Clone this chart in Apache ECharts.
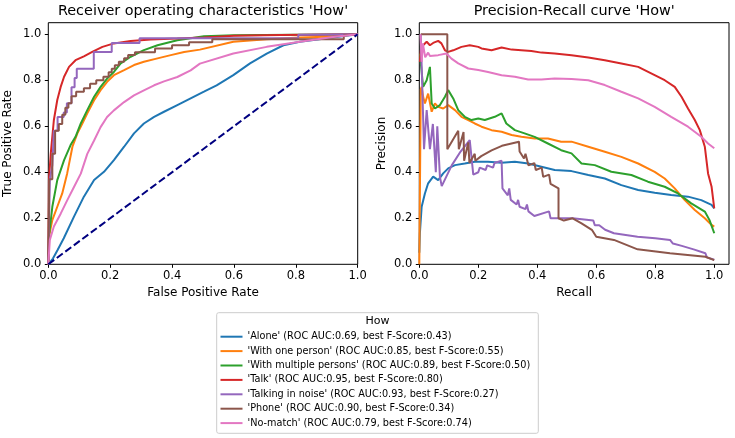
<!DOCTYPE html>
<html>
<head>
<meta charset="utf-8">
<script src="https://cdn.jsdelivr.net/npm/echarts@6/dist/echarts.min.js"></script>
<style>html,body{margin:0;padding:0;background:#fff}#c{width:735px;height:438px}</style>
</head>
<body>
<div id="c"></div>
<script>
const categories = ["'Alone'", "'With one person'", "'With multiple persons'", "'Talk'", "'Talking in noise'", "'Phone'", "'No-match'"];
const rocAuc = ['0.69', '0.85', '0.89', '0.95', '0.93', '0.90', '0.79'];
const bestF = ['0.43', '0.55', '0.50', '0.80', '0.27', '0.34', '0.74'];
const colors = ['#1f77b4', '#ff7f0e', '#2ca02c', '#d62728', '#9467bd', '#8c564b', '#e377c2'];
const tickValues = [0, 0.2, 0.4, 0.6, 0.8, 1.0];
const diagonal = [[0, 0], [1, 1]];

// ROC curves [FPR, TPR]
const rocAlone = [[0,0],[0.015,0.025],[0.03,0.062],[0.05,0.113],[0.083,0.207],[0.115,0.294],[0.148,0.366],[0.18,0.402],[0.212,0.453],[0.245,0.511],[0.277,0.569],[0.309,0.612],[0.342,0.641],[0.374,0.663],[0.417,0.692],[0.46,0.721],[0.503,0.75],[0.544,0.778],[0.598,0.822],[0.652,0.873],[0.706,0.916],[0.76,0.952],[0.813,0.967],[0.92,0.986],[1,1]];
const rocWithOne = [[0,0],[0.002,0.12],[0.013,0.192],[0.029,0.25],[0.045,0.308],[0.061,0.395],[0.078,0.511],[0.094,0.569],[0.11,0.612],[0.126,0.656],[0.148,0.713],[0.169,0.757],[0.19,0.793],[0.212,0.822],[0.245,0.844],[0.277,0.866],[0.309,0.88],[0.353,0.895],[0.396,0.909],[0.439,0.923],[0.49,0.933],[0.598,0.967],[0.706,0.978],[0.813,0.986],[0.92,0.99],[1,1]];
const rocWithMultiple = [[0,0],[0.002,0.12],[0.013,0.25],[0.029,0.366],[0.051,0.453],[0.072,0.518],[0.088,0.554],[0.105,0.612],[0.126,0.67],[0.148,0.728],[0.169,0.771],[0.19,0.807],[0.212,0.836],[0.234,0.873],[0.266,0.902],[0.309,0.931],[0.353,0.952],[0.417,0.974],[0.503,0.991],[0.6,0.996],[1,1]];
const rocTalk = [[0,0],[0.002,0.366],[0.008,0.482],[0.018,0.627],[0.029,0.714],[0.04,0.771],[0.051,0.815],[0.067,0.858],[0.088,0.887],[0.115,0.904],[0.142,0.923],[0.175,0.945],[0.212,0.96],[0.266,0.971],[0.331,0.977],[0.417,0.981],[0.503,0.986],[0.6,0.993],[0.75,0.997],[1,1]];
const rocTalkingNoise = [[0,0],[0.005,0],[0.005,0.37],[0.013,0.43],[0.018,0.58],[0.03,0.58],[0.03,0.64],[0.05,0.64],[0.05,0.66],[0.06,0.66],[0.06,0.70],[0.075,0.70],[0.075,0.77],[0.085,0.77],[0.085,0.81],[0.092,0.81],[0.092,0.85],[0.147,0.85],[0.147,0.923],[0.205,0.923],[0.205,0.962],[0.295,0.962],[0.295,0.982],[0.808,0.982],[0.808,0.998],[1,1]];
const rocPhone = [[0,0],[0.003,0],[0.003,0.37],[0.013,0.37],[0.013,0.48],[0.022,0.48],[0.022,0.58],[0.034,0.58],[0.034,0.61],[0.045,0.61],[0.045,0.65],[0.055,0.65],[0.055,0.68],[0.065,0.68],[0.065,0.70],[0.075,0.70],[0.075,0.73],[0.09,0.73],[0.09,0.75],[0.115,0.75],[0.115,0.765],[0.135,0.765],[0.135,0.785],[0.155,0.785],[0.155,0.80],[0.178,0.80],[0.178,0.815],[0.195,0.815],[0.195,0.835],[0.205,0.835],[0.205,0.85],[0.215,0.85],[0.215,0.865],[0.228,0.865],[0.228,0.88],[0.245,0.88],[0.245,0.895],[0.258,0.895],[0.258,0.91],[0.28,0.91],[0.28,0.922],[0.345,0.922],[0.345,0.938],[0.40,0.938],[0.40,0.952],[0.455,0.952],[0.455,0.965],[0.53,0.965],[0.53,0.978],[0.955,0.978],[0.955,0.995],[1,1]];
const rocNoMatch = [[0,0],[0.005,0.106],[0.018,0.164],[0.04,0.22],[0.061,0.278],[0.083,0.336],[0.105,0.394],[0.126,0.48],[0.148,0.538],[0.169,0.596],[0.19,0.64],[0.212,0.669],[0.245,0.705],[0.277,0.734],[0.309,0.756],[0.342,0.778],[0.374,0.795],[0.417,0.814],[0.46,0.843],[0.49,0.872],[0.598,0.916],[0.706,0.945],[0.813,0.967],[0.92,0.988],[1,1]];

// Precision-Recall curves [Recall, Precision]
const prAlone = [[0,0.05],[0.002,0.135],[0.008,0.25],[0.019,0.308],[0.03,0.352],[0.047,0.381],[0.064,0.366],[0.081,0.395],[0.098,0.417],[0.121,0.431],[0.154,0.438],[0.188,0.446],[0.233,0.446],[0.279,0.441],[0.324,0.446],[0.369,0.438],[0.414,0.424],[0.459,0.41],[0.516,0.405],[0.573,0.388],[0.629,0.373],[0.685,0.344],[0.742,0.323],[0.798,0.311],[0.854,0.301],[0.911,0.294],[0.956,0.279],[0.991,0.258],[1.0,0.243]];
const prWithOne = [[0,0],[0.003,0.0],[0.005,0.76],[0.008,0.771],[0.013,0.728],[0.019,0.699],[0.03,0.742],[0.042,0.663],[0.053,0.699],[0.064,0.684],[0.081,0.677],[0.098,0.692],[0.121,0.67],[0.143,0.641],[0.166,0.627],[0.188,0.612],[0.211,0.598],[0.245,0.583],[0.279,0.576],[0.313,0.562],[0.346,0.554],[0.391,0.547],[0.436,0.547],[0.481,0.533],[0.516,0.533],[0.573,0.511],[0.629,0.489],[0.685,0.467],[0.742,0.438],[0.798,0.402],[0.832,0.373],[0.866,0.33],[0.9,0.279],[0.934,0.236],[0.968,0.2],[0.991,0.171],[1.0,0.164]];
const prWithMultiple = [[0.002,0.916],[0.013,0.771],[0.025,0.80],[0.036,0.858],[0.042,0.699],[0.053,0.677],[0.07,0.692],[0.087,0.728],[0.098,0.757],[0.115,0.721],[0.132,0.67],[0.154,0.641],[0.177,0.627],[0.2,0.634],[0.222,0.627],[0.256,0.641],[0.279,0.656],[0.295,0.612],[0.324,0.583],[0.357,0.569],[0.391,0.554],[0.436,0.525],[0.481,0.496],[0.516,0.482],[0.55,0.438],[0.595,0.431],[0.651,0.402],[0.719,0.388],[0.775,0.359],[0.832,0.337],[0.877,0.308],[0.922,0.265],[0.968,0.229],[0.984,0.192],[1.0,0.135]];
const prTalk = [[0.002,0.88],[0.005,0.93],[0.013,0.952],[0.025,0.967],[0.036,0.952],[0.047,0.962],[0.064,0.971],[0.075,0.96],[0.087,0.93],[0.098,0.923],[0.115,0.93],[0.143,0.945],[0.171,0.952],[0.2,0.945],[0.211,0.938],[0.245,0.93],[0.279,0.942],[0.313,0.933],[0.346,0.93],[0.38,0.927],[0.414,0.92],[0.459,0.916],[0.516,0.909],[0.573,0.899],[0.629,0.887],[0.685,0.873],[0.742,0.858],[0.798,0.822],[0.832,0.80],[0.866,0.771],[0.889,0.728],[0.911,0.677],[0.934,0.627],[0.951,0.583],[0.968,0.511],[0.979,0.395],[0.991,0.337],[1.0,0.243]];
const prTalkingNoise = [[0.005,1.0],[0.01,1.0],[0.016,0.5],[0.025,0.67],[0.036,0.5],[0.046,0.61],[0.056,0.40],[0.061,0.60],[0.07,0.38],[0.076,0.34],[0.11,0.43],[0.14,0.49],[0.171,0.54],[0.183,0.39],[0.2,0.40],[0.205,0.42],[0.225,0.41],[0.23,0.43],[0.25,0.42],[0.255,0.44],[0.279,0.45],[0.282,0.33],[0.30,0.30],[0.305,0.33],[0.31,0.28],[0.33,0.26],[0.335,0.28],[0.34,0.25],[0.36,0.24],[0.365,0.26],[0.37,0.23],[0.39,0.21],[0.44,0.23],[0.445,0.2],[0.52,0.2],[0.59,0.19],[0.595,0.17],[0.61,0.17],[0.63,0.15],[0.66,0.135],[0.74,0.12],[0.8,0.113],[0.85,0.106],[0.86,0.09],[0.89,0.08],[0.93,0.065],[0.97,0.048],[0.975,0.03],[1.0,0.02]];
const prPhone = [[0.005,1.0],[0.095,1.0],[0.095,0.50],[0.132,0.58],[0.134,0.50],[0.15,0.575],[0.152,0.45],[0.166,0.53],[0.17,0.44],[0.188,0.48],[0.19,0.45],[0.21,0.47],[0.245,0.495],[0.28,0.515],[0.338,0.533],[0.34,0.49],[0.355,0.46],[0.36,0.48],[0.37,0.43],[0.39,0.44],[0.395,0.41],[0.415,0.42],[0.42,0.38],[0.44,0.39],[0.445,0.35],[0.472,0.33],[0.472,0.20],[0.49,0.19],[0.52,0.2],[0.55,0.178],[0.585,0.15],[0.6,0.12],[0.66,0.106],[0.74,0.065],[0.85,0.048],[0.97,0.033],[1.0,0.018]];
const prNoMatch = [[0.004,1.0],[0.008,0.88],[0.012,0.96],[0.02,0.90],[0.03,0.92],[0.036,0.905],[0.064,0.909],[0.092,0.916],[0.109,0.894],[0.132,0.873],[0.166,0.851],[0.2,0.844],[0.233,0.836],[0.279,0.822],[0.324,0.815],[0.369,0.803],[0.414,0.803],[0.459,0.807],[0.516,0.805],[0.573,0.80],[0.629,0.779],[0.685,0.75],[0.742,0.721],[0.798,0.684],[0.854,0.641],[0.911,0.598],[0.956,0.554],[0.979,0.525],[1.0,0.504]];

const rocData = [rocAlone, rocWithOne, rocWithMultiple, rocTalk, rocTalkingNoise, rocPhone, rocNoMatch];
const prData = [prAlone, prWithOne, prWithMultiple, prTalk, prTalkingNoise, prPhone, prNoMatch];
const legendNames = categories.map((c, i) => c + ' (ROC AUC:' + rocAuc[i] + ', best F-Score:' + bestF[i] + ')');

const FONT = 'DejaVu Sans';
const chart = echarts.init(document.getElementById('c'), null, {renderer: 'canvas'});

function xAxisCfg(idx, max, name) {
  return {
    type: 'value', gridIndex: idx, min: 0, max: max, name: name,
    nameLocation: 'middle', nameGap: 22,
    nameTextStyle: {fontFamily: FONT, fontSize: 12, color: '#000'},
    axisLine: {show: false},
    axisTick: {show: true, length: 3.5, customValues: tickValues, lineStyle: {color: '#000', width: 1}},
    axisLabel: {customValues: tickValues, margin: 6, fontFamily: FONT, fontSize: 11.5, color: '#000', formatter: v => v.toFixed(1)},
    splitLine: {show: false}
  };
}
function yAxisCfg(idx, name, gap) {
  return {
    type: 'value', gridIndex: idx, min: 0, max: 1.05, name: name,
    nameLocation: 'middle', nameGap: gap, nameRotate: 90,
    nameTextStyle: {fontFamily: FONT, fontSize: 12, color: '#000'},
    axisLine: {show: false},
    axisTick: {show: true, length: 3.5, customValues: tickValues, lineStyle: {color: '#000', width: 1}},
    axisLabel: {customValues: tickValues, margin: 7, fontFamily: FONT, fontSize: 11.5, color: '#000', formatter: v => v.toFixed(1)},
    splitLine: {show: false}
  };
}

const series = [];
rocData.forEach((d, i) => series.push({
  name: legendNames[i], type: 'line', xAxisIndex: 0, yAxisIndex: 0, data: d,
  showSymbol: false, symbol: 'none', lineStyle: {width: 2, color: colors[i]}, itemStyle: {color: colors[i]}, animation: false
}));
series.push({
  name: 'diagonal', type: 'line', xAxisIndex: 0, yAxisIndex: 0, data: diagonal,
  showSymbol: false, symbol: 'none', lineStyle: {width: 2, color: '#000080', type: [7.4, 3.2]}, animation: false
});
prData.forEach((d, i) => series.push({
  name: legendNames[i], type: 'line', xAxisIndex: 1, yAxisIndex: 1, data: d,
  showSymbol: false, symbol: 'none', lineStyle: {width: 2, color: colors[i]}, itemStyle: {color: colors[i]}, animation: false
}));

chart.setOption({
  animation: false,
  textStyle: {fontFamily: FONT},
  grid: [
    {left: 48.3, top: 22.7, width: 309.4, height: 241.6, show: true, borderColor: '#000', borderWidth: 1, backgroundColor: 'transparent'},
    {left: 419.3, top: 22.7, width: 309.7, height: 241.6, show: true, borderColor: '#000', borderWidth: 1, backgroundColor: 'transparent'}
  ],
  xAxis: [xAxisCfg(0, 1.0, 'False Positive Rate'), xAxisCfg(1, 1.05, 'Recall')],
  yAxis: [yAxisCfg(0, 'True Positive Rate', 34), yAxisCfg(1, 'Precision', 31.5)],
  legend: {
    data: legendNames, orient: 'vertical', left: 220.5, top: 330.7, height: 104, padding: 0,
    icon: 'rect', itemWidth: 22, itemHeight: 2, itemGap: 2.4, selectedMode: false,
    textStyle: {fontFamily: FONT, fontSize: 9.7, color: '#000', lineHeight: 12}
  },
  graphic: [
    {type: 'rect', shape: {x: 216.7, y: 312.7, width: 321.6, height: 120.6, r: 2}, style: {fill: '#fff', stroke: '#cccccc', lineWidth: 1}, z: 0},
    {type: 'text', x: 377.5, y: 320.7, style: {text: 'How', fontFamily: FONT, fontSize: 11, fill: '#000', textAlign: 'center', textVerticalAlign: 'middle'}, z: 5},
    {type: 'text', x: 203, y: 11, style: {text: "Receiver operating characteristics 'How'", fontFamily: FONT, fontSize: 14.4, fill: '#000', textAlign: 'center', textVerticalAlign: 'middle'}},
    {type: 'text', x: 574.2, y: 11, style: {text: "Precision-Recall curve 'How'", fontFamily: FONT, fontSize: 14.4, fill: '#000', textAlign: 'center', textVerticalAlign: 'middle'}}
  ],
  series: series
});
</script>
</body>
</html>
